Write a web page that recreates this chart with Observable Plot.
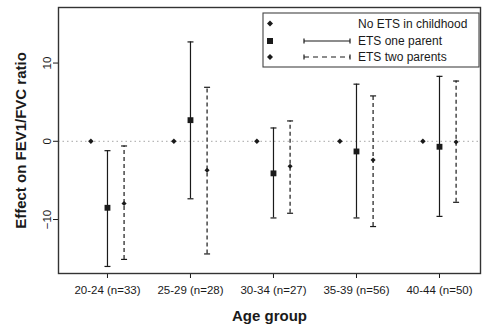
<!DOCTYPE html>
<html>
<head>
<meta charset="utf-8">
<script src="https://cdn.jsdelivr.net/npm/d3@7"></script>
<script src="https://cdn.jsdelivr.net/npm/@observablehq/plot@0.6"></script>
<style>
  html, body { margin: 0; padding: 0; background: #fff; }
  #chart svg { font-family: "Liberation Sans", Arial, sans-serif; }
  #chart g[aria-label="y-axis label"] text { font-size: 15px; font-weight: bold; }
  #chart g[aria-label="x-axis label"] text { font-size: 15px; font-weight: bold; }
</style>
</head>
<body>
<div id="chart"></div>
<script>
const groups = ["20-24 (n=33)", "25-29 (n=28)", "30-34 (n=27)", "35-39 (n=56)", "40-44 (n=50)"];
const seriesNames = ["No ETS in childhood", "ETS one parent", "ETS two parents"];

const noEts = [0, 0, 0, 0, 0];

const oneEst = [-8.5, 2.7, -4.1, -1.3, -0.7];
const oneLo  = [-16.0, -7.35, -9.8, -9.8, -9.6];
const oneHi  = [-1.2, 12.7, 1.7, 7.3, 8.3];

const twoEst = [-7.95, -3.7, -3.2, -2.4, -0.1];
const twoLo  = [-15.1, -14.4, -9.2, -10.9, -7.8];
const twoHi  = [-0.6, 6.9, 2.6, 5.8, 7.7];

const yTicks = [-10, 0, 10];

// build tables
const offsets = [-0.2, 0, 0.2];
const noRows = groups.map((g, i) => ({x: i + 1 + offsets[0], y: noEts[i]}));
const oneRows = groups.map((g, i) => ({x: i + 1 + offsets[1], y: oneEst[i], lo: oneLo[i], hi: oneHi[i]}));
const twoRows = groups.map((g, i) => ({x: i + 1 + offsets[2], y: twoEst[i], lo: twoLo[i], hi: twoHi[i]}));

const hline = {
  draw(ctx, size) {
    const r = Math.sqrt(size / Math.PI);
    ctx.moveTo(-r, 0);
    ctx.lineTo(r, 0);
  }
};

const ink = "#1a1a1a";

const plot = Plot.plot({
  width: 482,
  height: 327,
  marginLeft: 58,
  marginRight: 2,
  marginTop: 7,
  marginBottom: 54,
  style: {fontSize: "11.5px", fontFamily: "'Liberation Sans', Arial, sans-serif", background: "#fff", color: ink},
  x: {domain: [0.41, 5.494]},
  y: {domain: [-16.9, 17.1]},
  marks: [
    Plot.ruleY([0], {stroke: "#b8b8b8", strokeDasharray: "1.5,3", strokeWidth: 1.2}),
    // CI lines
    Plot.ruleX(oneRows, {x: "x", y1: "lo", y2: "hi", stroke: ink, strokeWidth: 1.2}),
    Plot.ruleX(twoRows, {x: "x", y1: "lo", y2: "hi", stroke: ink, strokeWidth: 1.2, strokeDasharray: "4,3"}),
    // caps
    Plot.dot(oneRows, {x: "x", y: "lo", symbol: hline, r: 3, stroke: ink, strokeWidth: 1.2, fill: "none"}),
    Plot.dot(oneRows, {x: "x", y: "hi", symbol: hline, r: 3, stroke: ink, strokeWidth: 1.2, fill: "none"}),
    Plot.dot(twoRows, {x: "x", y: "lo", symbol: hline, r: 3, stroke: ink, strokeWidth: 1.2, fill: "none"}),
    Plot.dot(twoRows, {x: "x", y: "hi", symbol: hline, r: 3, stroke: ink, strokeWidth: 1.2, fill: "none"}),
    // points
    Plot.dot(noRows, {x: "x", y: "y", symbol: "diamond2", r: 2.5, fill: ink, stroke: "none"}),
    Plot.dot(oneRows, {x: "x", y: "y", symbol: "square", r: 3.3, fill: ink, stroke: "none"}),
    Plot.dot(twoRows, {x: "x", y: "y", symbol: "diamond2", r: 2.3, fill: ink, stroke: "none"}),
    Plot.axisY({ticks: yTicks, tickSize: 5, tickPadding: 3, tickRotate: -90, label: "Effect on FEV1/FVC ratio", labelAnchor: "center", labelArrow: "none", labelOffset: 43, stroke: ink}),
    Plot.axisX({ticks: [1, 2, 3, 4, 5], tickFormat: d => groups[d - 1], tickSize: 5, tickPadding: 7, label: "Age group", labelAnchor: "center", labelArrow: "none", labelOffset: 47, stroke: ink}),
    Plot.frame({stroke: "#333", strokeWidth: 1.4})
  ]
});

document.getElementById("chart").appendChild(plot);

// legend inside the frame (top-right)
const svg = d3.select(plot);
const lg = svg.append("g").attr("class", "legend").attr("text-anchor", "start");
const box = {x: 263, y: 13, w: 216, h: 54};
lg.append("rect").attr("x", box.x).attr("y", box.y).attr("width", box.w).attr("height", box.h)
  .attr("fill", "#fff").attr("stroke", "#444").attr("stroke-width", 1.1);
const rowsY = [23.5, 41, 57];
const markerX = 270;
const lineX1 = 304, lineX2 = 350, textX = 358;
seriesNames.forEach((name, i) => {
  const y = rowsY[i];
  if (i === 1) {
    lg.append("rect").attr("x", markerX - 3).attr("y", y - 3).attr("width", 6).attr("height", 6).attr("fill", ink);
  } else {
    lg.append("path").attr("d", `M${markerX},${y - 3}L${markerX + 3},${y}L${markerX},${y + 3}L${markerX - 3},${y}Z`).attr("fill", ink);
  }
  if (i > 0) {
    lg.append("line").attr("x1", lineX1).attr("x2", lineX2).attr("y1", y).attr("y2", y)
      .attr("stroke", ink).attr("stroke-width", 1.2).attr("stroke-dasharray", i === 2 ? "5,4" : null);
    [lineX1, lineX2].forEach(x => lg.append("line").attr("x1", x).attr("x2", x).attr("y1", y - 2.5).attr("y2", y + 2.5)
      .attr("stroke", ink).attr("stroke-width", 1.2));
  }
  lg.append("text").attr("x", textX).attr("y", y).attr("dy", "0.35em").attr("font-size", "12px")
    .attr("text-anchor", "start").attr("fill", ink).text(name);
});
</script>
</body>
</html>
